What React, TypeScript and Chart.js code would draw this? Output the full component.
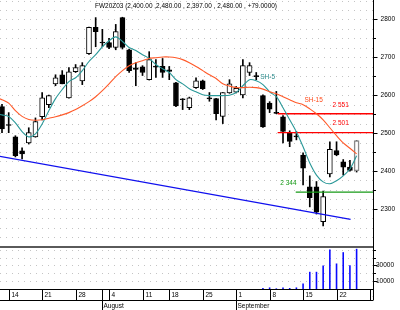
import React, { useEffect, useRef } from 'react';
import { Chart, registerables } from 'chart.js';

Chart.register(...registerables);

// ---------------- data ----------------
const tradingDays = [
  '07-11', '07-14', '07-15', '07-16', '07-17', '07-18', '07-21', '07-22', '07-23', '07-24', '07-25',
  '07-28', '07-29', '07-30', '07-31', '08-01', '08-04', '08-05', '08-06', '08-07', '08-08',
  '08-11', '08-12', '08-13', '08-14', '08-18', '08-19', '08-20', '08-21', '08-22',
  '08-25', '08-26', '08-27', '08-28', '08-29', '09-01', '09-02', '09-03', '09-04', '09-05',
  '09-08', '09-09', '09-10', '09-11', '09-12', '09-15', '09-16', '09-17', '09-18', '09-19',
  '09-22', '09-23', '09-24', '09-25',
];

const openPrices = [
  2570, 2522, 2490, 2453, 2474, 2490, 2543, 2575, 2630, 2654, 2593, 2662, 2638, 2710, 2779, 2740,
  2739, 2726, 2805, 2720, 2672, 2675, 2641, 2676, 2676, 2667, 2633, 2590, 2567, 2620, 2638, 2593,
  2591, 2544, 2606, 2608, 2601, 2660, 2651, 2599, 2579, 2554, 2543, 2501, 2493, 2442, 2358, 2358,
  2266, 2392, 2454, 2424, 2410, 2400,
];
const highPrices = [
  2576, 2554, 2493, 2461, 2514, 2540, 2607, 2600, 2654, 2665, 2673, 2681, 2686, 2780, 2805, 2774,
  2750, 2787, 2806, 2722, 2686, 2678, 2715, 2694, 2697, 2676, 2634, 2591, 2595, 2646, 2640, 2607,
  2592, 2607, 2641, 2623, 2694, 2686, 2660, 2601, 2583, 2610, 2546, 2506, 2504, 2448, 2387, 2372,
  2347, 2477, 2477, 2430, 2428, 2480,
];
const lowPrices = [
  2501, 2501, 2437, 2432, 2471, 2489, 2535, 2567, 2625, 2630, 2592, 2660, 2628, 2708, 2728, 2728,
  2723, 2720, 2722, 2660, 2625, 2652, 2640, 2647, 2647, 2641, 2570, 2562, 2562, 2618, 2615, 2584,
  2535, 2525, 2605, 2606, 2593, 2652, 2641, 2515, 2554, 2551, 2474, 2464, 2482, 2363, 2305, 2286,
  2255, 2384, 2440, 2389, 2399, 2397,
];
const closePrices = [
  2511, 2520, 2440, 2445, 2501, 2530, 2593, 2599, 2646, 2630, 2662, 2673, 2678, 2779, 2768, 2738,
  2726, 2768, 2726, 2665, 2668, 2660, 2694, 2674, 2660, 2663, 2572, 2588, 2593, 2638, 2617, 2590,
  2551, 2607, 2630, 2618, 2678, 2678, 2649, 2516, 2563, 2552, 2504, 2478, 2490, 2407, 2329, 2291,
  2332, 2457, 2442, 2410, 2401, 2480,
];
const volumes = [
  0, 0, 0, 0, 0, 0, 0, 0, 0, 0, 0, 0, 0, 0, 0, 0, 0, 0, 0, 0,
  0, 0, 0, 0, 0, 0, 0, 0, 0, 0, 0, 0, 0, 0, 0, 0, 0, 0, 0, 1300,
  2000, 800, 2000, 1300, 2000, 7000, 21900, 21900, 29900, 50300, 32500, 46900, 30300, 51200,
];

// moving averages, starting one day before the first candle
const sh5 = [
  2551, 2548, 2544, 2527, 2504, 2490, 2498, 2524, 2559, 2591, 2615, 2636, 2646, 2665, 2689, 2707,
  2728, 2744, 2754, 2742, 2726, 2718, 2707, 2697, 2681, 2670, 2660, 2641, 2630, 2617, 2609, 2601,
  2599, 2599, 2599, 2600, 2607, 2625, 2641, 2638, 2628, 2609, 2596, 2567, 2535, 2503, 2464, 2421,
  2389, 2371, 2366, 2374, 2387, 2405, 2440,
];
const sh15 = [
  2596, 2588, 2579, 2559, 2544, 2536, 2534, 2535, 2539, 2543, 2548, 2554, 2562, 2572, 2583, 2596,
  2612, 2630, 2649, 2665, 2678, 2686, 2691, 2697, 2699, 2701, 2701, 2699, 2694, 2686, 2676, 2665,
  2654, 2644, 2630, 2624, 2620, 2620, 2621, 2620, 2616, 2609, 2604, 2596, 2588, 2580, 2575, 2564,
  2551, 2535, 2514, 2493, 2474, 2460, 2445,
];

// support trend line (day position, price)
const trendDays = [-0.5, 52.1];
const trendPrices = [2439, 2272];

// horizontal levels
const levelPrices = [2551, 2501, 2344];
const levelStartDays = [41.2, 41.2, 43.9];
const levelLabels = ['2 551', '2 501', '2 344'];
const levelColors = ['#ff0000', '#ff0000', '#169a16'];

// axis ticks
const priceTicks = [2300, 2400, 2500, 2600, 2700, 2800];
const priceMinorTicks = [2350, 2450, 2550, 2650, 2750];
const volumeTicks = [10000, 30000];
const volumeMinorTicks = [20000, 40000, 50000];
const weekTickDays = [1, 6, 11, 16, 21, 25, 30, 35, 40, 45, 50, 55];
const weekTickLabels = ['14', '21', '28', '4', '11', '18', '25', '1', '8', '15', '22', '29'];
const monthTickDays = [15, 35];
const monthLabels = ['August', 'September'];

const titleText = 'FW20Z03 (2,400.00 ,2,480.00 , 2,397.00 , 2,480.00 , +79.0000)';

// ---------------- styles / layout ----------------
const FONT = '"Liberation Sans", Arial, sans-serif';
const PRICE_PANEL_BOTTOM = 247;
const TEAL = '#2a9898';
const ORANGE = '#ff5a2a';

const panelPlugin = {
  id: 'panels',
  afterLayout(chart: any) {
    const a = chart.chartArea;
    const y = chart.scales.y;
    const yv = chart.scales.yv;
    y.top = a.top;
    y.bottom = PRICE_PANEL_BOTTOM;
    y.height = PRICE_PANEL_BOTTOM - a.top;
    y.configure();
    yv.top = PRICE_PANEL_BOTTOM;
    yv.bottom = a.bottom;
    yv.height = a.bottom - PRICE_PANEL_BOTTOM;
    yv.configure();
  },
};

function hline(ctx: CanvasRenderingContext2D, x1: number, x2: number, y: number) {
  ctx.beginPath();
  ctx.moveTo(x1, y);
  ctx.lineTo(x2, y);
  ctx.stroke();
}
function vline(ctx: CanvasRenderingContext2D, x: number, y1: number, y2: number) {
  ctx.beginPath();
  ctx.moveTo(x, y1);
  ctx.lineTo(x, y2);
  ctx.stroke();
}

const decorPlugin = {
  id: 'decor',
  beforeDatasetsDraw(chart: any) {
    const { ctx, chartArea: a, scales } = chart;
    const y = scales.y;
    const yv = scales.yv;
    ctx.save();
    ctx.strokeStyle = '#c4c4c4';
    ctx.lineWidth = 1;
    ctx.setLineDash([1, 5]);
    for (let p = 2225; p <= 2850; p += 25) {
      const py = Math.round(y.getPixelForValue(p)) + 0.5;
      if (py < PRICE_PANEL_BOTTOM - 2) hline(ctx, a.left, a.right, py);
    }
    for (let v = 10000; v <= 50000; v += 10000) {
      const py = Math.round(yv.getPixelForValue(v)) + 0.5;
      hline(ctx, a.left, a.right, py);
    }
    ctx.restore();
  },
  afterDatasetsDraw(chart: any) {
    const { ctx, chartArea: a, scales } = chart;
    const x = scales.x;
    const y = scales.y;
    const yv = scales.yv;
    ctx.save();

    // panel separator
    ctx.strokeStyle = '#5a5a5a';
    ctx.lineWidth = 2;
    hline(ctx, a.left, a.right, PRICE_PANEL_BOTTOM);

    // bottom axis rows
    ctx.strokeStyle = '#000';
    ctx.lineWidth = 1;
    const axisY = Math.round(a.bottom) + 0.5;
    const rowY = axisY + 11;
    hline(ctx, a.left, a.right, axisY);
    hline(ctx, a.left, a.right, rowY);
    // right axis
    const ax = Math.round(a.right) + 0.5;
    vline(ctx, ax, 0, rowY);

    // price ticks
    ctx.font = `6.5px ${FONT}`;
    ctx.fillStyle = '#000';
    ctx.textAlign = 'right';
    ctx.textBaseline = 'middle';
    priceTicks.forEach((p) => {
      const py = Math.round(y.getPixelForValue(p)) + 0.5;
      hline(ctx, ax, ax + 4, py);
      ctx.fillText(String(p), 395, py);
    });
    priceMinorTicks.forEach((p) => {
      const py = Math.round(y.getPixelForValue(p)) + 0.5;
      hline(ctx, ax, ax + 2.5, py);
    });
    volumeTicks.forEach((v) => {
      const py = Math.round(yv.getPixelForValue(v)) + 0.5;
      hline(ctx, ax, ax + 4, py);
      ctx.fillText(String(v), 394, py);
    });
    volumeMinorTicks.forEach((v) => {
      const py = Math.round(yv.getPixelForValue(v)) + 0.5;
      hline(ctx, ax, ax + 2.5, py);
    });

    // week ticks and labels
    ctx.save();
    ctx.beginPath();
    ctx.rect(a.left, axisY, a.right - a.left + 0.5, 30);
    ctx.clip();
    ctx.textAlign = 'left';
    weekTickDays.forEach((d, i) => {
      const px = Math.round(x.getPixelForValue(d)) + 0.5;
      vline(ctx, px, axisY, rowY);
      ctx.fillText(weekTickLabels[i], px + 2, axisY + 5.5);
    });
    monthTickDays.forEach((d, i) => {
      const px = Math.round(x.getPixelForValue(d)) + 0.5;
      vline(ctx, px, axisY, rowY + 10);
      ctx.fillText(monthLabels[i], px + 1, rowY + 5.5);
    });
    ctx.restore();

    // title
    ctx.textAlign = 'left';
    ctx.fillStyle = '#000';
    ctx.fillText(titleText, 95, 6, 182);

    // moving average labels
    ctx.fillStyle = '#2a8a8a';
    ctx.fillText('SH-5', x.getPixelForValue(38.6), y.getPixelForValue(2648));
    ctx.fillStyle = '#ff4a1a';
    ctx.fillText('SH-15', x.getPixelForValue(45.2), y.getPixelForValue(2587));

    // level labels
    levelLabels.forEach((t, i) => {
      ctx.fillStyle = levelColors[i];
      const dx = i === 2 ? 41.6 : 49.4;
      ctx.fillText(t, x.getPixelForValue(dx), y.getPixelForValue(levelPrices[i]) - 9);
    });

    ctx.restore();
  },
};

export default function App() {
  const ref = useRef<HTMLCanvasElement | null>(null);

  useEffect(() => {
    if (!ref.current) return;
    const n = tradingDays.length;
    const wickData = tradingDays.map((_, i) => ({ x: i, y: [lowPrices[i], highPrices[i]] }));
    const bodyData = tradingDays.map((_, i) => ({ x: i, y: [openPrices[i], closePrices[i]] }));
    const bodyFill = tradingDays.map((_, i) => (closePrices[i] > openPrices[i] ? '#ffffff' : '#000000'));
    const bodyBorder = tradingDays.map((_, i) => (i === n - 1 ? '#8a8a8a' : '#000000'));
    const bodyBorderWidth = tradingDays.map((_, i) => (i === n - 1 ? 1.5 : 1));
    const volData = tradingDays.map((_, i) => ({ x: i, y: volumes[i] }));
    const sh5Data = sh5.map((v, i) => ({ x: i - 1, y: v }));
    const sh15Data = sh15.map((v, i) => ({ x: i - 1, y: v }));
    const trendData = trendDays.map((d, i) => ({ x: d, y: trendPrices[i] }));

    const levelSets = levelPrices.map((p, i) => ({
      type: 'line' as const,
      data: [
        { x: levelStartDays[i], y: p },
        { x: 57, y: p },
      ],
      borderColor: levelColors[i],
      borderWidth: 1.3,
      pointRadius: 0,
      order: 2,
      yAxisID: 'y',
    }));

    const chart = new Chart(ref.current, {
      type: 'bar',
      data: {
        datasets: [
          {
            type: 'bar',
            data: volData as any,
            yAxisID: 'yv',
            backgroundColor: '#0a0aff',
            barThickness: 1.6,
            inflateAmount: 0,
            grouped: false,
            order: 10,
          } as any,
          {
            type: 'bar',
            data: wickData as any,
            yAxisID: 'y',
            backgroundColor: '#000',
            barThickness: 1,
            grouped: false,
            order: 9,
          } as any,
          {
            type: 'bar',
            data: bodyData as any,
            yAxisID: 'y',
            backgroundColor: bodyFill,
            borderColor: bodyBorder,
            borderWidth: bodyBorderWidth,
            borderSkipped: false,
            barThickness: 5,
            minBarLength: 1,
            grouped: false,
            order: 8,
          } as any,
          {
            type: 'line',
            data: trendData as any,
            yAxisID: 'y',
            borderColor: '#1010ee',
            borderWidth: 1.3,
            pointRadius: 0,
            order: 3,
          } as any,
          ...(levelSets as any[]),
          {
            type: 'line',
            data: sh15Data as any,
            yAxisID: 'y',
            borderColor: ORANGE,
            borderWidth: 1.1,
            pointRadius: 0,
            tension: 0.3,
            order: 1,
          } as any,
          {
            type: 'line',
            data: sh5Data as any,
            yAxisID: 'y',
            borderColor: TEAL,
            borderWidth: 1.1,
            pointRadius: 0,
            tension: 0.3,
            order: 1,
          } as any,
        ],
      },
      options: {
        responsive: false,
        animation: false,
        devicePixelRatio: 1,
        events: [],
        layout: { padding: { left: 0, right: 27, top: 0, bottom: 21 } },
        plugins: {
          legend: { display: false },
          tooltip: { enabled: false },
        },
        scales: {
          x: { type: 'linear', min: -0.3, max: 55.45, offset: false, display: false },
          y: { type: 'linear', min: 2199, max: 2851.5, display: false },
          yv: { type: 'linear', min: 0, max: 53500, display: false },
        },
      } as any,
      plugins: [panelPlugin, decorPlugin],
    });
    return () => chart.destroy();
  }, []);

  return (
    <div style={{ position: 'absolute', left: 0, top: 0, width: 400, height: 310, background: '#fff' }}>
      <canvas ref={ref} width={400} height={310} style={{ display: 'block', width: 400, height: 310 }} />
    </div>
  );
}
